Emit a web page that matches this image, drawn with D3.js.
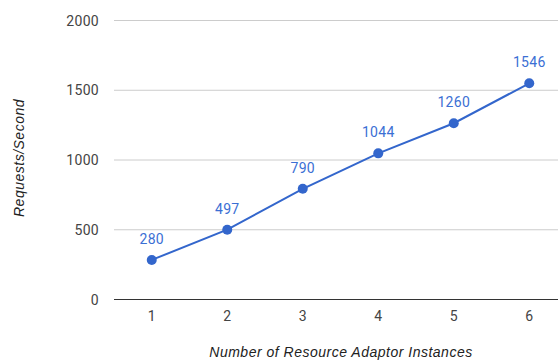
<!DOCTYPE html>
<html><head><meta charset="utf-8">
<script src="https://cdn.jsdelivr.net/npm/d3@7"></script>
<style>body{margin:0;background:#fff}svg{display:block}</style>
</head><body>
<svg id="c" width="558" height="362"></svg>
<script>
const categories = ["1","2","3","4","5","6"];
const values = [280, 497, 790, 1044, 1260, 1546];
const yTicks = [0, 500, 1000, 1500, 2000];
const xTitle = "Number of Resource Adaptor Instances";
const yTitle = "Requests/Second";

(function () {
const svg = d3.select("#c");
const pLeft = 114, pRight = 567, pTop = 20, pBottom = 299;
const x = d3.scaleBand().domain(categories).range([pLeft, pRight]);
const y = d3.scaleLinear().domain([0, 2000]).range([pBottom, pTop]);
const cx = d => x(d) + x.bandwidth() / 2;
const tickFont = "Roboto, Arial, sans-serif";

svg.append("g").selectAll("line").data(yTicks.filter(t => t > 0)).join("line")
  .attr("x1", pLeft).attr("x2", 558).attr("y1", d => y(d) + 0.5).attr("y2", d => y(d) + 0.5)
  .attr("stroke", "#cccccc").attr("stroke-width", 1);
svg.append("line").attr("x1", pLeft).attr("x2", 558).attr("y1", y(0) + 0.5).attr("y2", y(0) + 0.5)
  .attr("stroke", "#333333").attr("stroke-width", 1.2);

svg.append("g").selectAll("text").data(yTicks).join("text")
  .attr("x", 99).attr("y", d => y(d) + 5.5).attr("text-anchor", "end")
  .attr("font-family", tickFont).attr("font-size", 14).attr("letter-spacing", 0.3).attr("fill", "#444")
  .text(d => d);

svg.append("g").selectAll("text").data(categories).join("text")
  .attr("x", d => cx(d)).attr("y", 321).attr("text-anchor", "middle")
  .attr("font-family", tickFont).attr("font-size", 14).attr("fill", "#444")
  .text(d => d);

svg.append("text").attr("x", 341).attr("y", 357).attr("text-anchor", "middle")
  .attr("font-family", "Liberation Sans, Arial, sans-serif").attr("font-style", "italic")
  .attr("font-size", 14).attr("letter-spacing", 0.5).attr("fill", "#222").text(xTitle);
svg.append("text").attr("transform", "translate(24,158) rotate(-90)").attr("text-anchor", "middle")
  .attr("font-family", "Liberation Sans, Arial, sans-serif").attr("font-style", "italic")
  .attr("font-size", 14).attr("letter-spacing", 0.5).attr("fill", "#222").text(yTitle);

const data = categories.map((c, i) => ({c, v: values[i]}));
svg.append("path").datum(data)
  .attr("d", d3.line().x(d => cx(d.c)).y(d => y(d.v)))
  .attr("fill", "none").attr("stroke", "#3366cc").attr("stroke-width", 2);
svg.append("g").selectAll("circle").data(data).join("circle")
  .attr("cx", d => cx(d.c)).attr("cy", d => y(d.v)).attr("r", 5).attr("fill", "#3366cc");
svg.append("g").selectAll("text").data(data).join("text")
  .attr("x", d => cx(d.c)).attr("y", d => y(d.v) - 16).attr("text-anchor", "middle")
  .attr("font-family", tickFont).attr("font-size", 14).attr("letter-spacing", 0.3).attr("fill", "#3b6fd4")
  .text(d => d.v);
})();
</script>
</body></html>
